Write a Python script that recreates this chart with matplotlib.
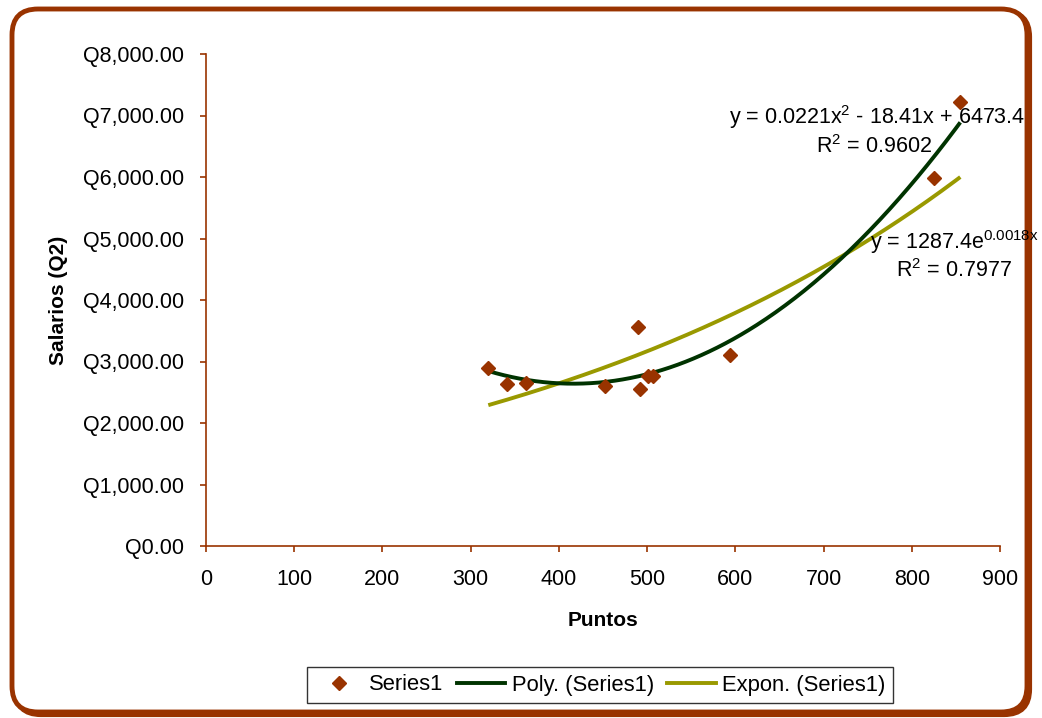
import numpy as np
import matplotlib
matplotlib.use("Agg")
import matplotlib.pyplot as plt
from matplotlib.patches import FancyBboxPatch
from matplotlib.lines import Line2D
from matplotlib.ticker import FuncFormatter

# ---- data ----
puntos = [320, 341, 363, 452, 490, 492, 501, 507, 594, 825, 855]
salarios = [2900, 2640, 2650, 2600, 3560, 2550, 2765, 2765, 3105, 5985, 7220]
poly_coef = [0.0221, -18.41, 6473.4]      # y = a x^2 + b x + c
expon_coef = [1287.4, 0.0018]            # y = A e^(k x)
poly_label = r"y = 0.0221x$^{2}$ - 18.41x + 6473.4"
poly_r2 = r"R$^{2}$ = 0.9602"
expon_label = r"y = 1287.4e$^{\mathrm{0.0018x}}$"
expon_r2 = r"R$^{2}$ = 0.7977"
x_ticks = [0, 100, 200, 300, 400, 500, 600, 700, 800, 900]
y_ticks = [0, 1000, 2000, 3000, 4000, 5000, 6000, 7000, 8000]
series_names = ["Series1", "Poly. (Series1)", "Expon. (Series1)"]

plt.rcParams['font.family'] = ['Liberation Sans', 'DejaVu Sans']
plt.rcParams['mathtext.fontset'] = 'custom'
plt.rcParams['mathtext.rm'] = 'Liberation Sans'
plt.rcParams['mathtext.it'] = 'Liberation Sans:italic'
plt.rcParams['mathtext.bf'] = 'Liberation Sans:bold'

BROWN = '#993300'
GREEN = '#003300'
OLIVE = '#999900'

W, H = 1042, 718
fig = plt.figure(figsize=(W / 100, H / 100), dpi=100)

# background frame (rounded border with shadow)
bg = fig.add_axes([0, 0, 1, 1], zorder=0)
bg.set_xlim(0, W)
bg.set_ylim(0, H)
bg.axis('off')
shadow = FancyBboxPatch((15, 3), W - 27, H - 14, boxstyle="round,pad=0,rounding_size=26",
                        facecolor=BROWN, edgecolor=BROWN, linewidth=3.0)
bg.add_patch(shadow)
frame = FancyBboxPatch((12, 6), W - 27, H - 15, boxstyle="round,pad=0,rounding_size=26",
                       facecolor='white', edgecolor=BROWN, linewidth=3.5)
bg.add_patch(frame)

ax = fig.add_axes([206 / W, 1 - 546 / H, 794 / W, 492 / H], zorder=1)
ax.set_facecolor('white')

x = np.asarray(puntos, dtype=float)
y = np.asarray(salarios, dtype=float)
xs = np.linspace(x.min(), x.max(), 300)
y_poly = np.polyval(poly_coef, xs)
y_exp = expon_coef[0] * np.exp(expon_coef[1] * xs)

ax.plot(xs, y_exp, color=OLIVE, lw=2.8, zorder=2, solid_capstyle='butt')
ax.plot(xs, y_poly, color=GREEN, lw=2.8, zorder=3, solid_capstyle='butt')
ax.plot(x, y, linestyle='none', marker='D', markersize=7.5, color=BROWN,
        markeredgecolor=BROWN, zorder=4, clip_on=False)

ax.set_xlim(0, 900)
ax.set_ylim(0, 8000)
ax.set_xticks(x_ticks)
ax.set_yticks(y_ticks)
ax.yaxis.set_major_formatter(FuncFormatter(lambda v, p: "Q{:,.2f}".format(v)))

for s in ['top', 'right']:
    ax.spines[s].set_visible(False)
for s in ['left', 'bottom']:
    ax.spines[s].set_color(BROWN)
    ax.spines[s].set_linewidth(1.2)
ax.tick_params(axis='both', direction='out', length=4.5, width=1.2, color=BROWN,
               labelsize=15.5, labelcolor='black')
ax.tick_params(axis='y', pad=11)
ax.tick_params(axis='x', pad=12)

ax.set_xlabel("Puntos", fontsize=15, fontweight='bold', va='center')
ax.xaxis.set_label_coords(0.5, (546 - 620) / 492)
ax.set_ylabel("Salarios (Q2)", fontsize=15, fontweight='bold', va='center')
ax.yaxis.set_label_coords((58 - 206) / 794, 0.5)

# trendline labels (data coordinates)
ax.text(928.3, 6854, poly_label, ha='right', va='baseline', fontsize=15.5, zorder=5)
ax.text(822.6, 6390, poly_r2, ha='right', va='baseline', fontsize=15.5, zorder=5)
ax.text(944.2, 4829, expon_label, ha='right', va='baseline', fontsize=15.5, zorder=5)
ax.text(913.0, 4374, expon_r2, ha='right', va='baseline', fontsize=15.5, zorder=5)

handles = [
    Line2D([], [], linestyle='none', marker='D', markersize=7, color=BROWN),
    Line2D([], [], color=GREEN, lw=2.8),
    Line2D([], [], color=OLIVE, lw=2.8),
]
leg = fig.legend(handles, series_names, loc='center', bbox_to_anchor=(600 / W, 1 - 685 / H),
                 ncol=3, fontsize=15.8, frameon=True, fancybox=False, edgecolor='black',
                 handlelength=2.2, handletextpad=0.3, columnspacing=0.6,
                 borderpad=0.35, borderaxespad=0)
leg.get_frame().set_linewidth(1.0)
leg.set_zorder(6)

fig.savefig("out.png", dpi=100)
